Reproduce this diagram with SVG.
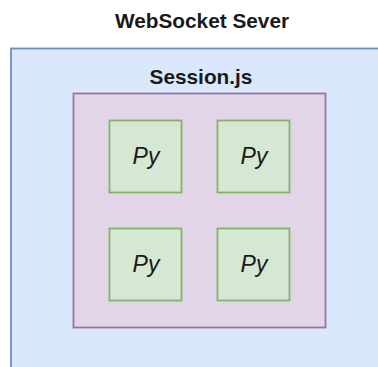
<svg xmlns="http://www.w3.org/2000/svg" width="378" height="367" viewBox="0 0 378 367">
<style>
.lbl{font-family:"Liberation Sans",Arial,Helvetica,sans-serif;fill:#1a1a1a;text-anchor:middle}
.b{font-weight:bold;font-size:20.8px}
.py{font-style:italic;font-size:23px}
.node{fill:#d5e8d4;stroke:#82b366;stroke-width:1.8}
</style>
<rect width="378" height="367" fill="#ffffff"/>
<g id="server">
<rect x="11" y="48.5" width="420" height="420" fill="#dae8fc" stroke="#6c8ebf" stroke-width="1.8"/>
<text class="lbl b" x="202" y="28">WebSocket Sever</text>
</g>
<g id="session">
<rect x="73.5" y="93.5" width="252" height="234" fill="#e1d5e7" stroke="#9673a6" stroke-width="1.8"/>
<text class="lbl b" x="201" y="84">Session.js</text>
</g>
<g id="py1"><rect class="node" x="109.5" y="120.5" width="72" height="72"/><text class="lbl py" x="146" y="164">Py</text></g>
<g id="py2"><rect class="node" x="217.5" y="120.5" width="72" height="72"/><text class="lbl py" x="254" y="164">Py</text></g>
<g id="py3"><rect class="node" x="109.5" y="228.5" width="72" height="72"/><text class="lbl py" x="146" y="272">Py</text></g>
<g id="py4"><rect class="node" x="217.5" y="228.5" width="72" height="72"/><text class="lbl py" x="254" y="272">Py</text></g>
<g id="connectors"/>
</svg>
